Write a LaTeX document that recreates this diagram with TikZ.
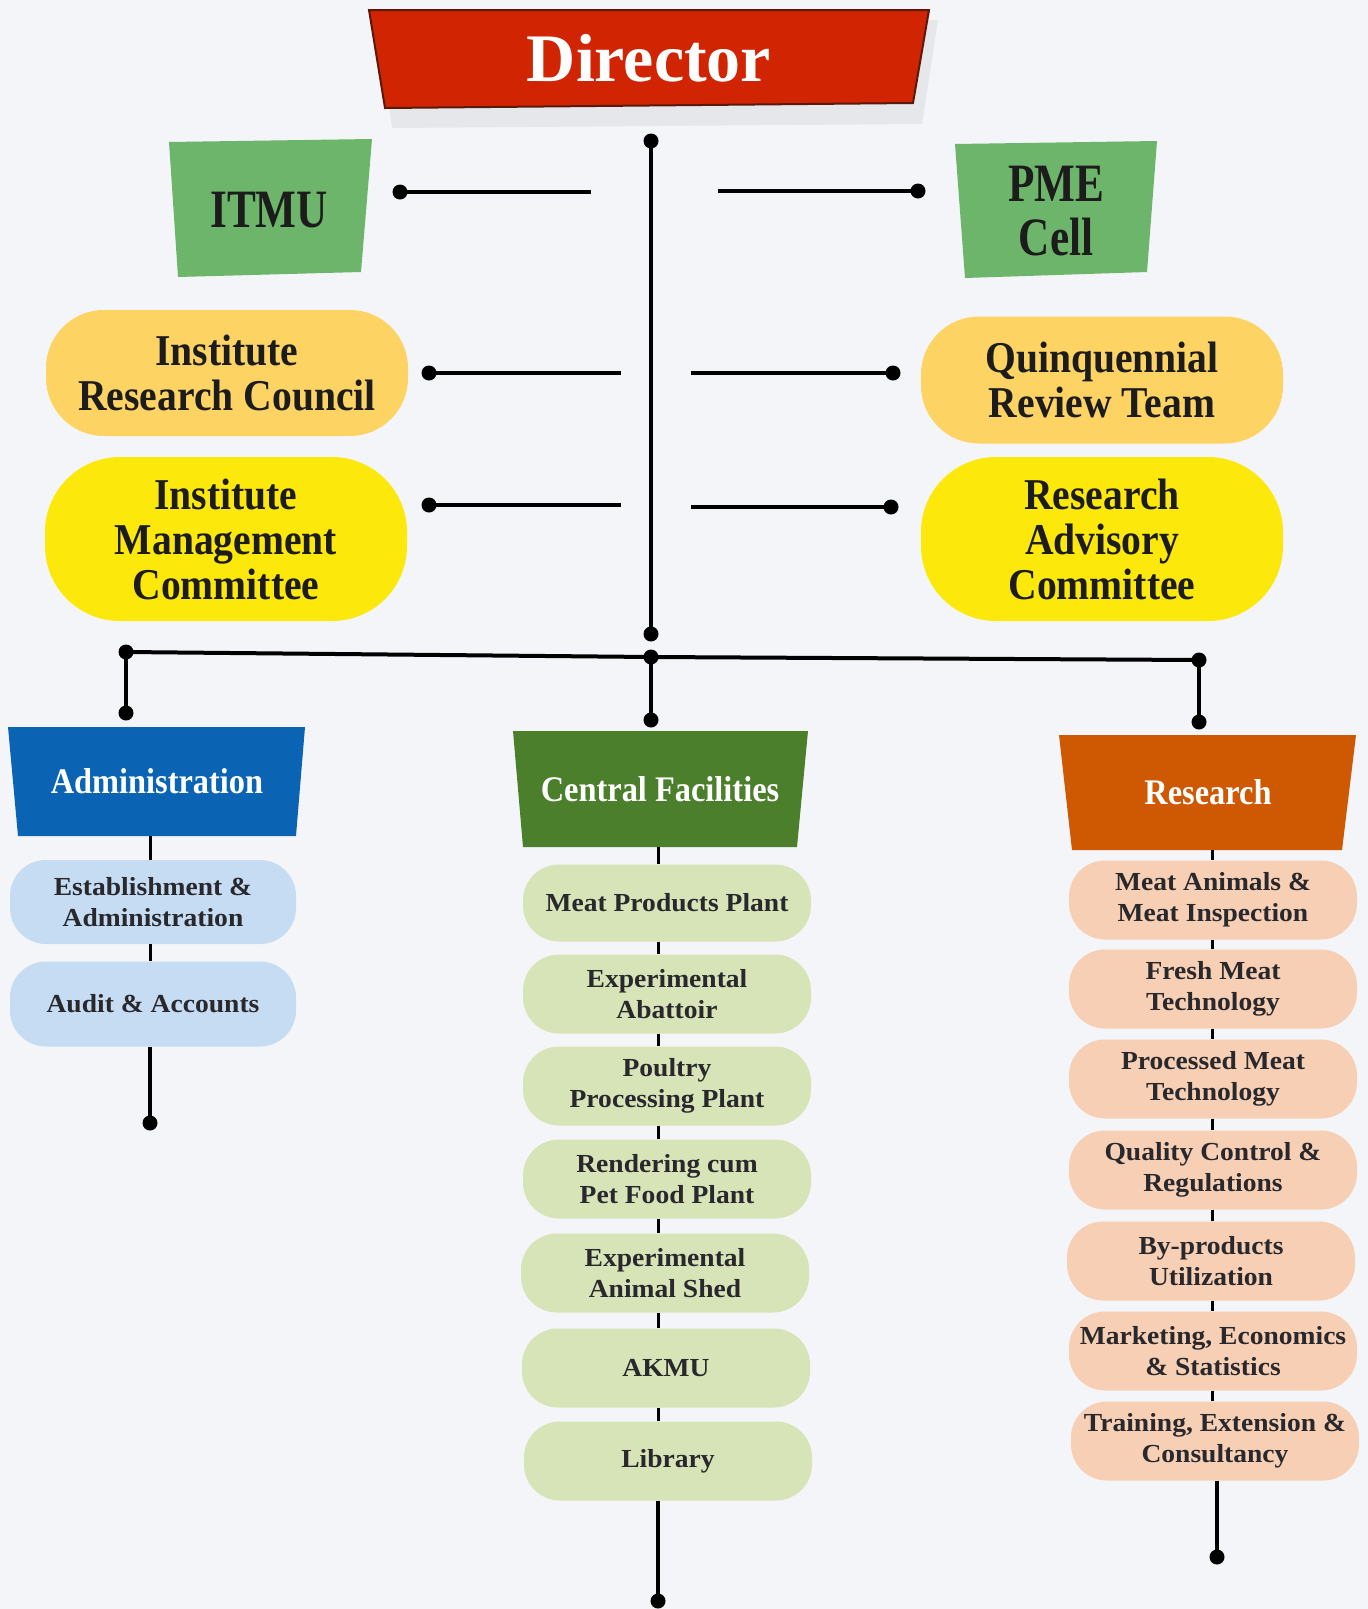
\documentclass[tikz,border=0pt]{standalone}
\usepackage{fontspec}
\setmainfont{Liberation Serif}
\newfontfamily\fDir{Liberation Serif}
\newfontfamily\fA[FakeStretch=0.8]{Liberation Serif}
\newfontfamily\fB[FakeStretch=0.9]{Liberation Serif}
\newfontfamily\fC[FakeStretch=1.06]{Liberation Serif}
\definecolor{bgc}{RGB}{244,245,248}
\definecolor{dirred}{RGB}{208,36,2}
\definecolor{dirdark}{RGB}{90,25,10}
\definecolor{shadowc}{RGB}{230,231,235}
\definecolor{itgreen}{RGB}{108,181,106}
\definecolor{ircc}{RGB}{253,211,99}
\definecolor{imcc}{RGB}{252,232,10}
\definecolor{adminc}{RGB}{11,99,180}
\definecolor{cfc}{RGB}{75,127,43}
\definecolor{resc}{RGB}{207,88,2}
\definecolor{adsub}{RGB}{197,220,242}
\definecolor{cfsub}{RGB}{214,228,184}
\definecolor{ressub}{RGB}{247,207,180}
\definecolor{txtc}{RGB}{28,28,28}
\definecolor{subtxt}{RGB}{40,40,45}
\begin{document}
\begin{tikzpicture}[x=1pt,y=-1pt,
  toptext/.style={align=center,inner sep=0pt,text=txtc,font=\fB\bfseries\fontsize{44}{45}\selectfont},
  greentext/.style={align=center,inner sep=0pt,text=txtc,font=\fA\bfseries\fontsize{54}{54}\selectfont},
  pill/.style={toptext,rounded corners=58pt,minimum width=362pt},
  headtext/.style={align=center,inner sep=0pt,text=white,font=\fB\bfseries\fontsize{36}{38}\selectfont},
  subbox/.style={align=center,inner sep=0pt,text=subtxt,font=\fC\bfseries\fontsize{26}{31}\selectfont,
     rounded corners=36pt,minimum width=288pt,minimum height=79pt},
  conn/.style={line width=4pt,black},
  thin/.style={line width=3pt,black},
  dot/.style={circle,fill=black,inner sep=0pt,minimum size=15pt}
]
\useasboundingbox (0,0) rectangle (1368,1609);
\fill[bgc] (0,0) rectangle (1368,1609);

% ---------- Director ----------
\fill[shadowc] (378,22) -- (938,20) -- (922,124) -- (392,128) -- cycle;
\fill[dirred,draw=dirdark,line width=2pt] (369,10) -- (929,10) -- (913,103) -- (385,108) -- cycle;
\node[inner sep=0pt,text=white,font=\fDir\bfseries\fontsize{68}{70}\selectfont] (director) at (649,58) {Director};

% ---------- ITMU / PME ----------
\fill[itgreen] (169,142) -- (372,139) -- (361,272) -- (178,277) -- cycle;
\node[greentext] (itmu) at (269,210) {ITMU};
\fill[itgreen] (955,144) -- (1157,141) -- (1147,272) -- (965,278) -- cycle;
\node[greentext] (pme) at (1056,211) {PME\\Cell};

% ---------- committees ----------
\node[pill,fill=ircc,minimum height=126pt] (irc) at (227,373) {Institute\\Research Council};
\node[pill,fill=ircc,minimum height=127pt] (qrt) at (1102,380) {Quinquennial\\Review Team};
\node[pill,fill=imcc,minimum height=164pt,rounded corners=75pt] (imc) at (226,539) {Institute\\Management\\Committee};
\node[pill,fill=imcc,minimum height=164pt,rounded corners=75pt] (rac) at (1102,539) {Research\\Advisory\\Committee};

% ---------- main spine ----------
\node[dot] (dtop) at (651,141) {};
\node[dot] (dbot) at (651,634) {};
\draw[conn] (dtop.center) -- (dbot.center);

\node[dot] (itmuL) at (400,192) {};
\coordinate (itmuR) at (591,192);
\draw[conn] (itmuL.center) -- (itmuR);
\coordinate (pmeL) at (718,191);
\node[dot] (pmeR) at (918,191) {};
\draw[conn] (pmeL) -- (pmeR.center);
\node[dot] (ircL) at (429,373) {};
\coordinate (ircR) at (621,373);
\draw[conn] (ircL.center) -- (ircR);
\coordinate (qrtL) at (691,373);
\node[dot] (qrtR) at (893,373) {};
\draw[conn] (qrtL) -- (qrtR.center);
\node[dot] (imcL) at (429,505) {};
\coordinate (imcR) at (621,505);
\draw[conn] (imcL.center) -- (imcR);
\coordinate (racL) at (691,507);
\node[dot] (racR) at (891,507) {};
\draw[conn] (racL) -- (racR.center);

% ---------- bus ----------
\node[dot] (busL) at (126,652) {};
\node[dot] (busM) at (651,657) {};
\node[dot] (busR) at (1199,660) {};
\draw[conn] (busL.center) -- (busM.center) -- (busR.center);
\node[dot] (adTop) at (126,713) {};
\node[dot] (cfTop) at (651,720) {};
\node[dot] (resTop) at (1199,722) {};
\draw[conn] (busL.center) -- (adTop.center);
\draw[conn] (busM.center) -- (cfTop.center);
\draw[conn] (busR.center) -- (resTop.center);

% ---------- headers ----------
\fill[adminc] (8,727) -- (305,727) -- (296,836) -- (18,836) -- cycle;
\node[headtext,minimum width=288pt,minimum height=109pt] (admin) at (157,781.5) {Administration};
\fill[cfc] (513,731) -- (808,731) -- (797,847) -- (523,847) -- cycle;
\node[headtext,minimum width=285pt,minimum height=116pt] (cf) at (660,789) {Central Facilities};
\fill[resc] (1059,735) -- (1356,735) -- (1342,850) -- (1072,850) -- cycle;
\node[headtext,minimum width=285pt,minimum height=115pt] (res) at (1208,792.5) {Research};

% ---------- Administration column ----------
\coordinate (adx) at (150,0);
\node[subbox,fill=adsub,minimum width=286pt,minimum height=84pt] (ad1) at (153,902) {Establishment \&\\Administration};
\node[subbox,fill=adsub,minimum width=286pt,minimum height=85pt] (ad2) at (153,1004) {Audit \& Accounts};
\node[dot] (adEnd) at (150,1123) {};
\draw[thin] (admin.south -| adx) -- (ad1.north -| adx);
\draw[thin] (ad1.south -| adx) -- (ad2.north -| adx);
\draw[conn] (ad2.south -| adx) -- (adEnd.center);

% ---------- Central Facilities column ----------
\coordinate (cfx) at (658,0);
\node[subbox,fill=cfsub,minimum height=77pt] (cf1) at (667,903) {Meat Products Plant};
\node[subbox,fill=cfsub] (cf2) at (667,994) {Experimental\\Abattoir};
\node[subbox,fill=cfsub] (cf3) at (667,1086) {Poultry\\Processing Plant};
\node[subbox,fill=cfsub] (cf4) at (667,1179) {Rendering cum\\Pet Food Plant};
\node[subbox,fill=cfsub] (cf5) at (665,1273) {Experimental\\Animal Shed};
\node[subbox,fill=cfsub] (cf6) at (666,1368) {AKMU};
\node[subbox,fill=cfsub] (cf7) at (668,1461) {Library};
\node[dot] (cfEnd) at (658,1601) {};
\draw[thin] (cf.south -| cfx) -- (cf1.north -| cfx);
\foreach \a/\b in {cf1/cf2,cf2/cf3,cf3/cf4,cf4/cf5,cf5/cf6,cf6/cf7}
  \draw[thin] (\a.south -| cfx) -- (\b.north -| cfx);
\draw[conn] (cf7.south -| cfx) -- (cfEnd.center);

% ---------- Research column ----------
\coordinate (rsx) at (1212,0);
\node[subbox,fill=ressub] (r1) at (1213,900) {Meat Animals \&\\Meat Inspection};
\node[subbox,fill=ressub] (r2) at (1213,989) {Fresh Meat\\Technology};
\node[subbox,fill=ressub] (r3) at (1213,1079) {Processed Meat\\Technology};
\node[subbox,fill=ressub] (r4) at (1213,1170) {Quality Control \&\\Regulations};
\node[subbox,fill=ressub] (r5) at (1211,1261) {By-products\\Utilization};
\node[subbox,fill=ressub] (r6) at (1213,1351) {Marketing, Economics\\\& Statistics};
\node[subbox,fill=ressub] (r7) at (1215,1441) {Training, Extension \&\\Consultancy};
\node[dot] (rEnd) at (1217,1557) {};
\draw[thin] (res.south -| rsx) -- (r1.north -| rsx);
\foreach \a/\b in {r1/r2,r2/r3,r3/r4,r4/r5,r5/r6,r6/r7}
  \draw[thin] (\a.south -| rsx) -- (\b.north -| rsx);
\draw[conn] (r7.south -| rEnd) -- (rEnd.center);
\end{tikzpicture}
\end{document}
